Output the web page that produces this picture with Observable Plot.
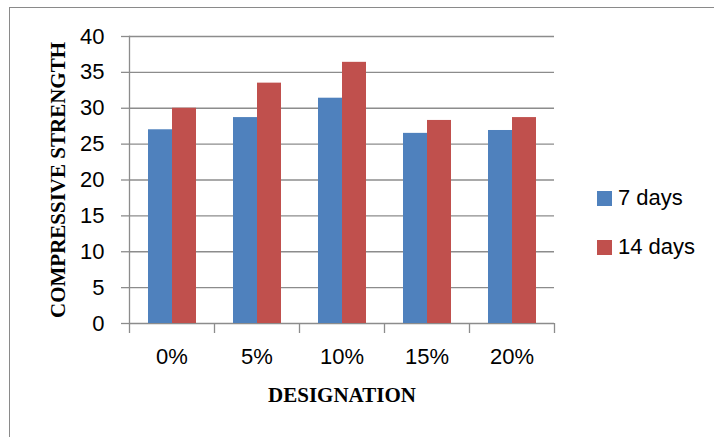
<!DOCTYPE html>
<html>
<head>
<meta charset="utf-8">
<script src="https://cdn.jsdelivr.net/npm/d3@7"></script>
<script src="https://cdn.jsdelivr.net/npm/@observablehq/plot@0.6"></script>
<style>
  html, body { margin: 0; padding: 0; background: #fff; overflow: hidden; }
  #wrap { position: relative; width: 714px; height: 437px; overflow: hidden; }
  #box { position: absolute; left: 9px; top: 7px; width: 760px; height: 480px; border: 1.5px solid #8a8a8a; box-sizing: border-box; }
  #chart { position: absolute; left: 0; top: 0; }
  #legend { position: absolute; left: 597px; top: 185px; font-family: "Liberation Sans", Arial, sans-serif; font-size: 22px; color: #000; }
  #legend .item { display: flex; align-items: center; height: 26px; margin-bottom: 23px; }
  #legend .sw { width: 15px; height: 15px; margin-right: 6px; }
</style>
</head>
<body>
<div id="wrap">
  <div id="box"></div>
  <div id="chart"></div>
  <div id="legend"></div>
</div>
<script>
const categories = ["0%", "5%", "10%", "15%", "20%"];
const series = ["7 days", "14 days"];
const days7 = [27.0, 28.7, 31.4, 26.5, 26.9];
const days14 = [30.0, 33.5, 36.4, 28.3, 28.7];
const yTicks = [0, 5, 10, 15, 20, 25, 30, 35, 40];
const colors = ["#4F81BD", "#C0504D"];

const data = [];
categories.forEach((c, i) => {
  data.push({cat: c, series: series[0], value: days7[i]});
  data.push({cat: c, series: series[1], value: days14[i]});
});

const W = 714, H = 437;
const mL = 129, mR = 160, mT = 36, mB = 114;
const step = (W - mL - mR) / categories.length;
const gray = "#8c8c8c";

const chart = Plot.plot({
  width: W, height: H,
  marginLeft: mL, marginRight: mR, marginTop: mT, marginBottom: mB,
  style: {fontFamily: "'Liberation Sans', Arial, sans-serif", background: "transparent"},
  fx: {domain: categories, padding: 0, axis: null},
  x: {domain: series, paddingInner: 0, paddingOuter: 0.75, axis: null},
  y: {domain: [0, 40], axis: null},
  color: {domain: series, range: colors},
  marks: [
    Plot.gridY({ticks: yTicks, stroke: gray, strokeOpacity: 1, strokeWidth: 1.3}),
    Plot.frame({anchor: "left", facetAnchor: "left", stroke: gray, strokeWidth: 1.3}),
    Plot.barY(data, {fx: "cat", x: "series", y: "value", fill: "series"}),
    Plot.axisY({ticks: yTicks, tickSize: 8, tickPadding: 17, fontSize: 22, stroke: gray, strokeOpacity: 1, strokeWidth: 1.3, label: null, color: "#000"}),
    Plot.axisY({ticks: [], label: "COMPRESSIVE STRENGTH", labelAnchor: "center", labelArrow: "none", labelOffset: 79, dy: 3,
      fontFamily: "'Liberation Serif', 'Times New Roman', serif", fontWeight: "bold", fontSize: 21}),
    Plot.axisFx({anchor: "bottom", tickSize: 10, text: null, dx: -step / 2, stroke: gray, strokeOpacity: 1, strokeWidth: 1.3, label: null}),
    Plot.axisFx({anchor: "bottom", ticks: [categories[categories.length - 1]], tickSize: 10, text: null, dx: step / 2, stroke: gray, strokeOpacity: 1, strokeWidth: 1.3, label: null}),
    Plot.axisFx({anchor: "bottom", tickSize: 0, tickPadding: 25, fontSize: 22, label: null}),
    Plot.axisFx({anchor: "bottom", ticks: [], label: "DESIGNATION", labelAnchor: "center", labelArrow: "none", labelOffset: 78,
      fontFamily: "'Liberation Serif', 'Times New Roman', serif", fontWeight: "bold", fontSize: 21})
  ]
});
document.getElementById("chart").appendChild(chart);

const legend = document.getElementById("legend");
series.forEach((s, i) => {
  const item = document.createElement("div");
  item.className = "item";
  item.innerHTML = `<div class="sw" style="background:${colors[i]}"></div><span>${s}</span>`;
  legend.appendChild(item);
});
</script>
</body>
</html>
